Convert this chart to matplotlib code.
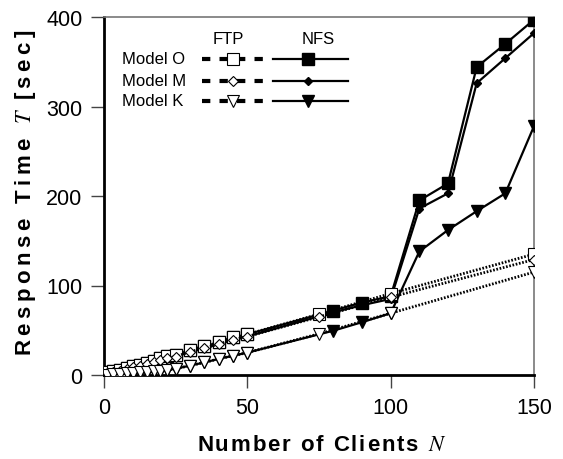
import matplotlib
matplotlib.use("Agg")
import matplotlib.pyplot as plt
from matplotlib.lines import Line2D

plt.rcParams['font.family'] = ['Liberation Sans', 'DejaVu Sans']
plt.rcParams['mathtext.fontset'] = 'stix'

# ---- data ----
x_low = [1, 3, 5.5, 8, 10, 12.5, 15, 17.5, 19.5, 22, 25, 30, 35, 40, 45, 50]

ftp_x = x_low + [75, 100, 150]
ftp_O = [3, 4.5, 6, 7.5, 9.5, 11, 13.5, 16, 18.5, 21, 22, 28, 32, 36.5, 42, 45.5, 68, 91, 135]
ftp_M = [2, 3.5, 5, 6.5, 8.5, 10, 12, 14.5, 17, 19, 20.5, 26, 30, 34.5, 39.5, 43, 65, 87, 129]
ftp_K = [0.5, 1, 1.5, 2, 2.5, 3, 3.5, 4, 5, 5.5, 7, 10.5, 14, 18, 21.5, 25, 46, 69, 115]

nfs_x = x_low + [80, 90, 100, 110, 120, 130, 140, 150]
nfs_O = [3, 4.5, 6, 7.5, 9.5, 11, 13.5, 16, 18.5, 21, 22, 28, 32, 36.5, 42, 45.5,
         72, 81, 88, 195, 214, 344, 370, 397]
nfs_M = [2, 3.5, 5, 6.5, 8.5, 10, 12, 14.5, 17, 19, 20.5, 26, 30, 34.5, 39.5, 43,
         70, 78, 85, 186, 203, 326, 354, 382]
nfs_K = [0.5, 1, 1.5, 2, 2.5, 3, 3.5, 4, 5, 5.5, 7, 10.5, 14, 18, 21.5, 25,
         49.5, 59, 69, 138, 162, 183, 203, 278]

x_ticks = [0, 50, 100, 150]
y_ticks = [0, 100, 200, 300, 400]

x_label = 'Number of Clients $\\mathit{N}$'
y_label = 'Response Time $\\mathit{T}$ [sec]'


def tracked(s, sep):
    # add letter spacing outside the math part
    out, inmath = [], False
    for ch in s:
        if ch == '$':
            inmath = not inmath
            out.append(ch)
            continue
        out.append(ch)
        if not inmath:
            out.append(sep)
    return ''.join(out).rstrip(sep)


fig = plt.figure(figsize=(5.63, 4.6), dpi=100)
ax = fig.add_axes([104/563, 1-376/460, 430/563, 358/460])

nfs_style = dict(color='black', lw=1.6, linestyle='-')
ftp_style = dict(color='black', lw=2.0, linestyle=(0, (0.6, 0.6)))

# NFS (solid)
ax.plot(nfs_x, nfs_O, marker='s', ms=8, mfc='black', mec='black', zorder=3, **nfs_style)
ax.plot(nfs_x, nfs_M, marker='D', ms=4.5, mfc='black', mec='black', zorder=3, **nfs_style)
ax.plot(nfs_x, nfs_K, marker='v', ms=8, mfc='black', mec='black', zorder=3, **nfs_style)
# FTP (dotted)
ax.plot(ftp_x, ftp_O, marker='s', ms=9, mfc='white', mec='black', mew=0.8, zorder=4, **ftp_style)
ax.plot(ftp_x, ftp_M, marker='D', ms=5, mfc='white', mec='black', mew=0.8, zorder=4, **ftp_style)
ax.plot(ftp_x, ftp_K, marker='v', ms=9, mfc='white', mec='black', mew=0.8, zorder=4, **ftp_style)

ax.set_xlim(0, 150)
ax.set_ylim(0, 400)
ax.set_xticks(x_ticks)
ax.set_yticks(y_ticks)
ax.tick_params(direction='out', length=9.5, width=1, color='#444444',
               labelsize=15.5, pad=6)
for s in ['left', 'bottom']:
    ax.spines[s].set_linewidth(2)
    ax.spines[s].set_color('black')
for s in ['top', 'right']:
    ax.spines[s].set_linewidth(1.2)
    ax.spines[s].set_color('#777777')

ax.set_xlabel(tracked(x_label, '\u200a'), fontsize=16, fontweight='bold', va='center')
ax.xaxis.set_label_coords(0.507, -0.1955)
ax.set_ylabel(tracked(y_label, '\u2009'), fontsize=16, fontweight='bold',
              va='center', ha='center')
ax.yaxis.set_label_coords(-0.1837, 0.511)

# ---- custom legend ----
tr = ax.transAxes
ax.text(0.288, 0.939, 'FTP', transform=tr, ha='center', va='center', fontsize=12)
ax.text(0.498, 0.939, 'NFS', transform=tr, ha='center', va='center', fontsize=12)
rows = [('Model O', 's', 8, 9), ('Model M', 'D', 4.5, 5), ('Model K', 'v', 8, 9)]
ys = [0.883, 0.822, 0.766]
for (lab, mk, ms_n, ms_f), yy in zip(rows, ys):
    ax.text(0.041, yy, lab, transform=tr, ha='left', va='center', fontsize=12)
    ax.add_line(Line2D([0.227, 0.374], [yy, yy], transform=tr, color='black',
                       lw=3, linestyle=(0, (2, 2.2))))
    ax.add_line(Line2D([0.30], [yy], transform=tr, marker=mk, ms=ms_f,
                       mfc='white', mec='black', mew=0.8, linestyle='none'))
    ax.add_line(Line2D([0.392, 0.568], [yy, yy], transform=tr, color='black', lw=1.6))
    ax.add_line(Line2D([0.474], [yy], transform=tr, marker=mk, ms=ms_n,
                       mfc='black', mec='black', linestyle='none'))

fig.savefig('out.png', dpi=100)
